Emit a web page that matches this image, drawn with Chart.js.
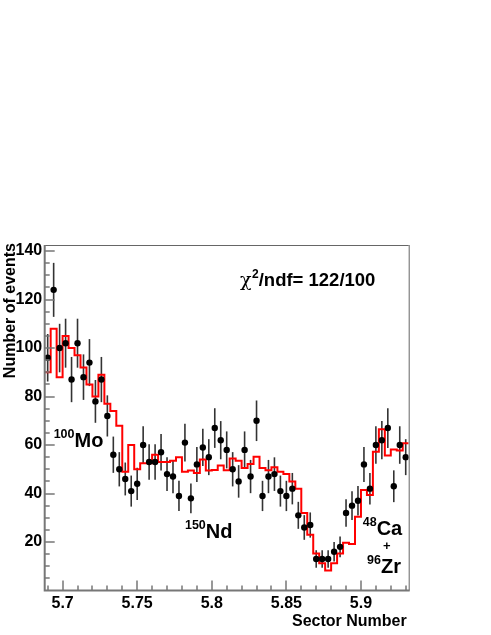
<!DOCTYPE html>
<html>
<head>
<meta charset="utf-8">
<script src="https://cdn.jsdelivr.net/npm/chart.js@4/dist/chart.umd.min.js"></script>
<style>
  html, body { margin: 0; background: #fff; }
  #wrap { width: 491px; height: 635px; }
</style>
</head>
<body>
<div id="wrap"><canvas id="c" width="491" height="635"></canvas></div>
<script>
// Binning of the sector-number histogram (61 bins)
const BIN_START = 5.688;
const BIN_WIDTH = 0.004;

// Measured events per bin (black dots, sqrt(N) error bars)
const counts = [
  96, 124, 100, 102, 87, 102, 88, 94, 78, 87,
  72, 56, 50, 46, 41, 44, 60, 53, 53, 57,
  48, 47, 39, 61, 38, 52, 59, 55, 67, 62,
  58, 50, 45, 58, 47, 70, 39, 47, 48, 41,
  39, 42, 31, 26, 27, 13, 13, 13, 16, 18,
  32, 35, 37, 52, 42, 60, 62, 67, 43, 60, 55
];

// Fit result per bin (red histogram)
const fitValues = [
  90, 108, 88, 105, 100, 97, 92, 85, 80, 89,
  77, 74, 68, 49, 60, 50, 52.5, 52.5, 56, 53,
  53, 53.5, 55, 49, 49.5, 48.5, 54, 49.5, 49.7, 51.6,
  49.6, 54.4, 53.5, 50.5, 52.2, 55.2, 50.5, 49.6, 50.8, 49,
  48, 45, 42, 32, 23, 15.3, 11.2, 8.2, 11.2, 15.3,
  19.7, 19.2, 30.4, 41.4, 39.4, 57.2, 66.5, 55.7, 58.2, 57.7, 60.7
];

const xRange = [5.688, 5.932];
const yRange = [0, 142.5];
const xTicks = [5.7, 5.75, 5.8, 5.85, 5.9];
const xTickLabels = ['5.7', '5.75', '5.8', '5.85', '5.9'];
const xMinorStep = 0.01;
const yTicks = [20, 40, 60, 80, 100, 120, 140];
const yMinorStep = 5;

const FONT = '"Liberation Sans", Arial, Helvetica, sans-serif';

const points = counts.map((n, i) => ({ x: BIN_START + (i + 0.5) * BIN_WIDTH, y: n }));
const fitStep = [];
fitValues.forEach((v, i) => {
  const lo = BIN_START + i * BIN_WIDTH;
  fitStep.push({ x: lo, y: v }, { x: lo + BIN_WIDTH, y: v });
});

// vertical sqrt(N) error bars under the dots
const errorBars = {
  id: 'errorBars',
  beforeDatasetsDraw(chart) {
    const { ctx, scales: { x, y } } = chart;
    ctx.save();
    ctx.strokeStyle = '#333';
    ctx.lineWidth = 1.6;
    counts.forEach((n, i) => {
      const e = Math.sqrt(n);
      const px = x.getPixelForValue(points[i].x);
      ctx.beginPath();
      ctx.moveTo(px, y.getPixelForValue(n - e));
      ctx.lineTo(px, y.getPixelForValue(n + e));
      ctx.stroke();
    });
    ctx.restore();
  }
};

// ROOT-like frame with inward ticks
const frame = {
  id: 'frame',
  afterDatasetsDraw(chart) {
    const { ctx, chartArea: a, scales: { x, y } } = chart;
    ctx.save();
    ctx.strokeStyle = '#666';
    ctx.lineWidth = 1;
    ctx.beginPath();
    ctx.moveTo(a.left, a.top + 0.5); ctx.lineTo(a.right, a.top + 0.5);
    ctx.moveTo(a.right + 0.5, a.top); ctx.lineTo(a.right + 0.5, a.bottom);
    ctx.stroke();

    ctx.strokeStyle = '#777';
    ctx.lineWidth = 2;
    ctx.beginPath();
    ctx.moveTo(a.left, a.top); ctx.lineTo(a.left, a.bottom);
    ctx.lineTo(a.right + 1, a.bottom);
    ctx.stroke();

    ctx.lineWidth = 1.5;
    ctx.beginPath();
    for (let v = Math.ceil(xRange[0] / xMinorStep) * xMinorStep; v <= xRange[1] + 1e-9; v += xMinorStep) {
      const major = xTicks.some((t) => Math.abs(t - v) < 1e-6);
      const px = Math.round(x.getPixelForValue(v));
      ctx.moveTo(px, a.bottom);
      ctx.lineTo(px, a.bottom - (major ? 10 : 5));
    }
    for (let v = yMinorStep; v <= yRange[1]; v += yMinorStep) {
      const major = yTicks.includes(v);
      const py = Math.round(y.getPixelForValue(v));
      ctx.moveTo(a.left, py);
      ctx.lineTo(a.left + (major ? 10 : 5), py);
    }
    ctx.stroke();
    ctx.restore();
  }
};

// axis titles and isotope labels
const texts = {
  id: 'texts',
  afterDraw(chart) {
    const { ctx, chartArea: a, scales: { x, y } } = chart;
    ctx.save();
    ctx.fillStyle = '#000';
    ctx.textBaseline = 'alphabetic';

    // axis titles
    ctx.font = 'bold 16px ' + FONT;
    ctx.textAlign = 'right';
    ctx.fillText('Sector Number', a.right - 2, 626);
    ctx.save();
    ctx.translate(15, a.top - 2);
    ctx.rotate(-Math.PI / 2);
    ctx.fillText('Number of events', 0, 0);
    ctx.restore();

    ctx.textAlign = 'left';
    const iso = (sup, main, xv, yv) => {
      let px = x.getPixelForValue(xv);
      const py = y.getPixelForValue(yv);
      ctx.font = 'bold 12.5px ' + FONT;
      ctx.fillText(sup, px, py - 9);
      px += ctx.measureText(sup).width;
      ctx.font = 'bold 20px ' + FONT;
      ctx.fillText(main, px, py);
    };
    iso('100', 'Mo', 5.694, 59.3);
    iso('150', 'Nd', 5.782, 21.6);
    iso('48', 'Ca', 5.9012, 22.9);
    iso('96', 'Zr', 5.9041, 7.3);
    ctx.font = 'bold 13px ' + FONT;
    ctx.textAlign = 'center';
    ctx.textBaseline = 'middle';
    ctx.fillText('+', x.getPixelForValue(5.9173), y.getPixelForValue(18.1));

    // chi2 / ndf
    ctx.textAlign = 'left';
    ctx.textBaseline = 'alphabetic';
    let cx = 240;
    const cy = 286;
    ctx.font = '19px "DejaVu Serif", serif';
    ctx.fillText('\u03C7', cx, cy);
    cx += ctx.measureText('\u03C7').width + 0.5;
    ctx.font = 'bold 12px ' + FONT;
    ctx.fillText('2', cx, cy - 8);
    cx += ctx.measureText('2').width;
    ctx.font = 'bold 18.5px ' + FONT;
    ctx.fillText('/ndf= 122/100', cx, cy);
    ctx.restore();
  }
};

new Chart(document.getElementById('c'), {
  type: 'scatter',
  data: {
    datasets: [
      {
        label: 'fit',
        data: fitStep,
        showLine: true,
        pointRadius: 0,
        borderColor: '#ff0000',
        borderWidth: 2,
        tension: 0,
        order: 1
      },
      {
        label: 'data',
        data: points,
        pointRadius: 3.2,
        pointBackgroundColor: '#000',
        pointBorderWidth: 0,
        order: 0
      }
    ]
  },
  options: {
    responsive: false,
    animation: false,
    events: [],
    layout: { padding: { top: 245, right: 82.3, left: 0, bottom: 0 } },
    plugins: { legend: { display: false }, tooltip: { enabled: false } },
    scales: {
      x: {
        type: 'linear',
        min: xRange[0],
        max: xRange[1],
        grid: { display: false, drawTicks: false },
        border: { display: false },
        afterBuildTicks: (s) => { s.ticks = xTicks.map((v) => ({ value: v })); },
        afterFit: (s) => { s.height = 44.5; },
        ticks: {
          autoSkip: false,
          maxRotation: 0,
          padding: 3,
          color: '#000',
          font: { family: FONT, size: 16, weight: 'bold' },
          callback: (v) => xTickLabels[xTicks.findIndex((t) => Math.abs(t - v) < 1e-6)]
        }
      },
      y: {
        type: 'linear',
        min: yRange[0],
        max: yRange[1],
        grid: { display: false, drawTicks: false },
        border: { display: false },
        afterBuildTicks: (s) => { s.ticks = yTicks.map((v) => ({ value: v })); },
        afterFit: (s) => { s.width = 44.7; },
        ticks: {
          autoSkip: false,
          padding: 2.5,
          color: '#000',
          font: { family: FONT, size: 16, weight: 'bold' },
          callback: (v) => String(v)
        }
      }
    }
  },
  plugins: [errorBars, frame, texts]
});
</script>
</body>
</html>
